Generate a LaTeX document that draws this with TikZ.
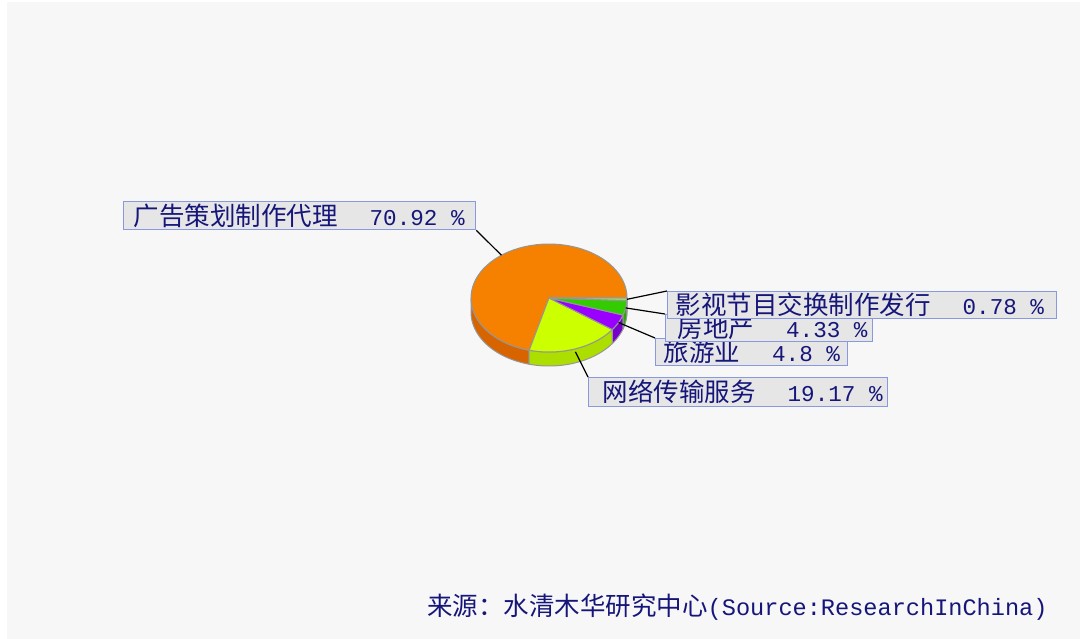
\documentclass[tikz,border=0pt]{standalone}
\usepackage{fontspec}
\newfontfamily\cjk{Noto Sans CJK SC}
\newfontfamily\monof{Liberation Mono}
\definecolor{bggray}{RGB}{247,247,247}
\definecolor{boxfill}{RGB}{230,230,230}
\definecolor{boxblue}{RGB}{136,153,221}
\definecolor{navytxt}{RGB}{22,22,122}
\definecolor{edgegray}{RGB}{150,150,150}
\definecolor{orangeT}{RGB}{246,128,0}
\definecolor{orangeS}{RGB}{216,100,0}
\definecolor{yellowT}{RGB}{204,255,0}
\definecolor{yellowS}{RGB}{172,222,0}
\definecolor{purpleT}{RGB}{153,0,255}
\definecolor{purpleS}{RGB}{120,0,204}
\definecolor{greenT}{RGB}{51,204,0}
\definecolor{greenS}{RGB}{40,168,0}
\definecolor{thinT}{RGB}{160,210,110}
\definecolor{thinS}{RGB}{130,180,90}
\newcommand\pcx{549}
\newcommand\pcy{298}
\newcommand\prx{78}
\newcommand\pry{54}
\newcommand\pdd{14}
\newcommand\pieside[3]{\filldraw[fill=#3, draw=edgegray, line width=1pt, line join=round]
  plot[domain=#1:#2, samples=40] ({\pcx+\prx*cos(\x)},{\pcy-\pry*sin(\x)})
  -- plot[domain=#2:#1, samples=40] ({\pcx+\prx*cos(\x)},{\pcy+\pdd-\pry*sin(\x)}) -- cycle;}
\newcommand\pietop[3]{\filldraw[fill=#3, draw=edgegray, line width=1pt, line join=round]
  (\pcx,\pcy) -- plot[domain=#1:#2, samples=60] ({\pcx+\prx*cos(\x)},{\pcy-\pry*sin(\x)}) -- cycle;}
\newcommand\lbl[4]{\makebox[#1][l]{\hspace*{#2}{\cjk\fontsize{25.5}{28}\selectfont #3}\hspace{32pt}{\monof\fontsize{22.6}{26}\selectfont #4}}}
\tikzset{
  lblbox/.style={draw=boxblue, fill=boxfill, line width=1.3pt, inner sep=0pt,
    anchor=north west, text=navytxt},
  leader/.style={draw=black, line width=1.2pt}
}
\begin{document}
\begin{tikzpicture}[x=1pt,y=-1pt]
\useasboundingbox (0,0) rectangle (1080,639);
\fill[white] (0,0) rectangle (1080,639);
\fill[bggray] (7,2) rectangle (1080,639);
% pie sides
\pieside{180}{255.31}{orangeS}
\pieside{255.31}{324.32}{yellowS}
\pieside{324.32}{341.6}{purpleS}
\pieside{341.6}{357.19}{greenS}
\pieside{357.19}{360}{thinS}
% pie tops
\pietop{0}{255.31}{orangeT}
\pietop{255.31}{324.32}{yellowT}
\pietop{324.32}{341.6}{purpleT}
\pietop{341.6}{357.19}{greenT}
\pietop{357.19}{360}{thinT}
% leader anchor points
\coordinate (p1) at ({\pcx+\prx*cos(127.6)},{\pcy-\pry*sin(127.6)});
\coordinate (p2) at ({\pcx+\prx*cos(289.8)},{\pcy+3-\pry*sin(289.8)});
\coordinate (p3) at ({\pcx+\prx*cos(333)},{\pcy-\pry*sin(333)});
\coordinate (p4) at ({\pcx+\prx*cos(349.4)},{\pcy-\pry*sin(349.4)});
\coordinate (p5) at ({\pcx+\prx*cos(358.6)},{\pcy-\pry*sin(358.6)});
% label boxes
\node[lblbox, minimum width=352pt, minimum height=28pt] (l1) at (123,201)
  {\lbl{352pt}{10pt}{广告策划制作代理}{70.92 \%}};
\node[lblbox, minimum width=299pt, minimum height=29pt] (l2) at (588,377)
  {\lbl{299pt}{14pt}{网络传输服务}{19.17 \%}};
\node[lblbox, minimum width=192pt, minimum height=27pt] (l3) at (655,338)
  {\lbl{192pt}{8pt}{旅游业}{4.8 \%}};
\node[lblbox, minimum width=207pt, minimum height=27pt] (l4) at (665,314)
  {\lbl{207pt}{12pt}{房地产}{4.33 \%}};
\node[lblbox, minimum width=389pt, minimum height=27pt] (l5) at (667,291)
  {\lbl{389pt}{8pt}{影视节目交换制作发行}{0.78 \%}};
% leaders
\draw[leader] (p1) -- (l1.south east);
\draw[leader] (p2) -- (l2.north west);
\draw[leader] (p3) -- (l3.north west);
\draw[leader] (p4) -- (l4.north west);
\draw[leader] (p5) -- (l5.north west);
% source
\node[anchor=west, inner sep=0pt, text=navytxt] (src) at (427,607)
  {{\cjk\fontsize{25.5}{28}\selectfont 来源：水清木华研究中心}{\monof\fontsize{23.6}{26}\selectfont (Source:ResearchInChina)}};
\end{tikzpicture}
\end{document}
